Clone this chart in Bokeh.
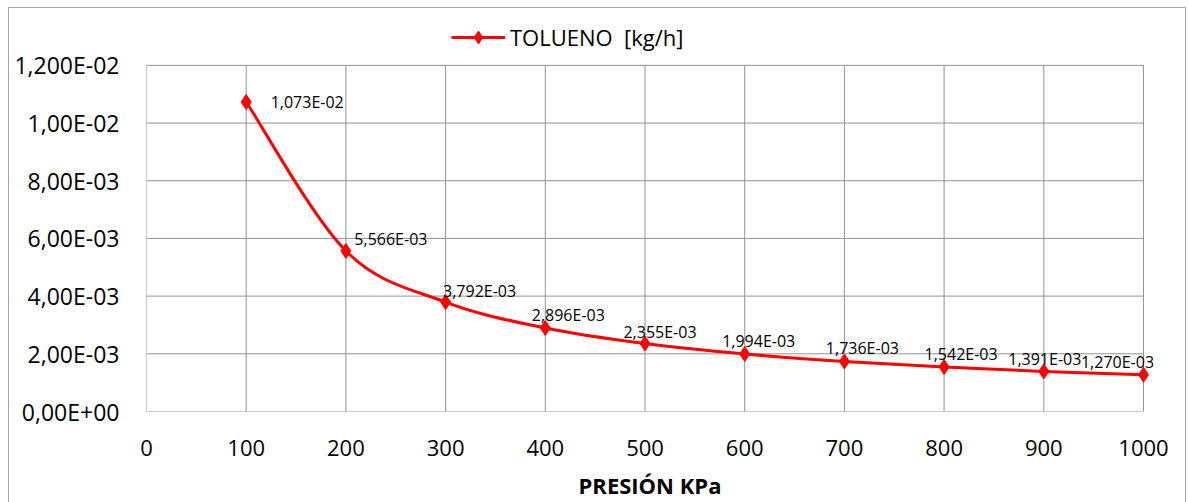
import numpy as np
from bokeh.plotting import figure
from bokeh.models import (ColumnDataSource, FixedTicker, Legend, LegendItem,
                          Range1d)
from bokeh.embed import file_html
from bokeh.resources import INLINE
from bokeh.core.properties import value

# --- data -------------------------------------------------------------
presion = [100, 200, 300, 400, 500, 600, 700, 800, 900, 1000]
tolueno = [1.073e-2, 5.566e-3, 3.792e-3, 2.896e-3, 2.355e-3,
           1.994e-3, 1.736e-3, 1.542e-3, 1.391e-3, 1.270e-3]
x_ticks = [0, 100, 200, 300, 400, 500, 600, 700, 800, 900, 1000]
y_ticks = [0.0, 0.002, 0.004, 0.006, 0.008, 0.010, 0.012]
y_tick_labels = ["0,00E+00", "2,00E-03", "4,00E-03", "6,00E-03",
                 "8,00E-03", "1,00E-02", "1,200E-02"]
series_name = "TOLUENO  [kg/h]"
x_title = "PRESIÓN KPa"

# pixel nudges for the value labels (layout only)
label_dx = [61, 45, 34, 23, 15, 14, 18, 17, 1, -26]
label_dy = [0, -12, -11, -13, -12, -13, -13, -13, -12, -13]

FONT = "Open Sans"
RED = "#FF0000"
GRID = "#939393"
BORDER = "#A6A6A6"

# plotting area geometry (pixels)
PLOT_H = 347          # height of the gridded area
TOP_PAD = 55          # free space above it that still belongs to the frame
RIGHT_PAD = 10        # free space right of it, so end markers are not clipped


def fmt(v):
    return f"{v:.3E}".replace(".", ",")


# smoothed line: cubic Bezier segments with Catmull-Rom style control points
xs = np.asarray(presion, dtype=float)
ys = np.asarray(tolueno, dtype=float)
n = len(xs)
prev_i = np.r_[0, np.arange(n - 2)]
next_i = np.r_[np.arange(2, n), n - 1]
seg = np.arange(n - 1)
bez = ColumnDataSource(dict(
    x0=xs[seg], y0=ys[seg], x1=xs[seg + 1], y1=ys[seg + 1],
    cx0=xs[seg] + (xs[seg + 1] - xs[prev_i]) / 6.0,
    cy0=ys[seg] + (ys[seg + 1] - ys[prev_i]) / 6.0,
    cx1=xs[seg + 1] - (xs[next_i] - xs[seg]) / 6.0,
    cy1=ys[seg + 1] - (ys[next_i] - ys[seg]) / 6.0,
))

pts = ColumnDataSource(dict(
    x=presion, y=tolueno, label=[fmt(v) for v in tolueno],
    dx=label_dx, dy=label_dy,
))

x_max, y_max = x_ticks[-1], y_ticks[-1]
p = figure(width=1188, height=502, output_backend="svg", toolbar_location=None,
           x_range=Range1d(0, x_max * (1 + RIGHT_PAD / 997)),
           y_range=Range1d(0, y_max * (PLOT_H + TOP_PAD) / PLOT_H),
           min_border_left=146, min_border_right=35,
           min_border_top=65 - TOP_PAD, min_border_bottom=90)
p.outline_line_color = None
p.background_fill_color = "white"
p.border_fill_color = None

# outer chart frame (left, top and right edges) painted behind the canvas
p.styles = {
    "background-color": "white",
    "background-image": (f"linear-gradient({BORDER},{BORDER}),"
                         f"linear-gradient({BORDER},{BORDER}),"
                         f"linear-gradient({BORDER},{BORDER})"),
    "background-size": "1178px 1px, 1px 495px, 1px 495px",
    "background-position": "8px 7px, 8px 7px, 1185px 7px",
    "background-repeat": "no-repeat",
}

# grid, limited to the gridded area
p.xgrid.visible = False
p.ygrid.visible = False
p.segment(x0=0, x1=x_max, y0=y_ticks, y1=y_ticks, line_color=GRID, line_width=1)
p.segment(x0=x_ticks, x1=x_ticks, y0=0, y1=y_max, line_color=GRID, line_width=1)

# axes
for ax in (p.xaxis[0], p.yaxis[0]):
    ax.axis_line_color = None
    ax.major_tick_line_color = None
    ax.minor_tick_line_color = None
    ax.major_label_text_font = FONT
    ax.major_label_text_color = "black"

p.xaxis.ticker = FixedTicker(ticks=x_ticks)
p.xaxis.major_label_text_font_size = "22px"
p.xaxis.major_label_standoff = 22
p.xaxis.axis_label = x_title
p.xaxis.axis_label_text_font = FONT
p.xaxis.axis_label_text_font_style = "bold"
p.xaxis.axis_label_text_font_size = "22px"
p.xaxis.axis_label_text_color = "black"
p.xaxis.axis_label_standoff = 11

p.yaxis.ticker = FixedTicker(ticks=y_ticks)
p.yaxis.major_label_overrides = dict(zip(y_ticks, y_tick_labels))
p.yaxis.major_label_text_font_size = "23px"
p.yaxis.major_label_standoff = 21

# series
line_r = p.bezier(x0="x0", y0="y0", x1="x1", y1="y1",
                  cx0="cx0", cy0="cy0", cx1="cx1", cy1="cy1",
                  source=bez, line_color=RED, line_width=3)
mark_r = p.scatter(x="x", y="y", source=pts, marker="diamond", size=15,
                   fill_color=RED, line_color=RED)

p.text(x="x", y="y", text="label", source=pts, x_offset="dx", y_offset="dy",
       text_font=value(FONT), text_font_size="16px", text_color="black",
       text_align="center", text_baseline="middle")

legend = Legend(items=[LegendItem(label=series_name, renderers=[line_r, mark_r])],
                location=(305, 358), orientation="horizontal",
                glyph_width=54, glyph_height=32, label_standoff=5,
                label_text_font=FONT, label_text_font_size="22px",
                label_text_color="black", padding=0, margin=0,
                border_line_color=None, background_fill_alpha=0)
p.add_layout(legend, "center")

open("out.html", "w").write(file_html(p, INLINE))
